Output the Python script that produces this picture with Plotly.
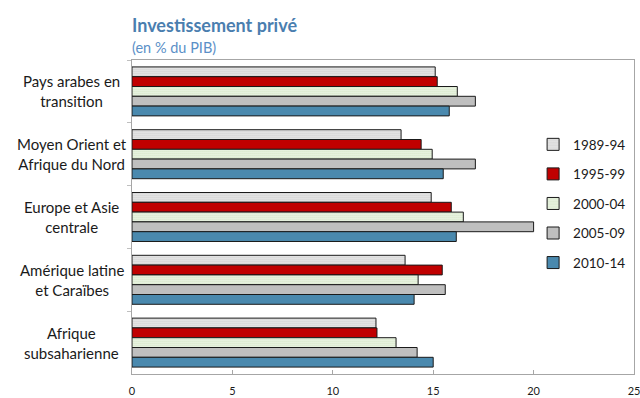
import plotly.graph_objects as go

# Regions (top to bottom) and periods
regions = [
    "Pays arabes en<br>transition",
    "Moyen Orient et<br>Afrique du Nord",
    "Europe et Asie<br>centrale",
    "Amérique latine<br>et Caraïbes",
    "Afrique<br>subsaharienne",
]
periods = ["1989-94", "1995-99", "2000-04", "2005-09", "2010-14"]

# Private investment, % of GDP, one list per period (same order as regions)
v_1989_94 = [15.1, 13.4, 14.9, 13.6, 12.15]
v_1995_99 = [15.2, 14.4, 15.9, 15.45, 12.2]
v_2000_04 = [16.2, 14.95, 16.5, 14.25, 13.15]
v_2005_09 = [17.1, 17.1, 20.0, 15.6, 14.2]
v_2010_14 = [15.8, 15.5, 16.15, 14.05, 15.0]
series = [v_1989_94, v_1995_99, v_2000_04, v_2005_09, v_2010_14]

x_ticks = [0, 5, 10, 15, 20, 25]

styles = [
    dict(color="white", pattern=dict(shape=".", fgcolor="#808080", bgcolor="white", size=2, solidity=0.6)),
    dict(color="#C00000"),
    dict(color="white", pattern=dict(shape=".", fgcolor="#8FBD6A", bgcolor="white", size=2, solidity=0.6)),
    dict(color="#BFBFBF"),
    dict(color="#4A89AE"),
]

FONT = "Lato"

fig = go.Figure()
for name, vals, st in zip(periods, series, styles):
    fig.add_trace(go.Bar(
        y=regions, x=vals, name=name, orientation="h",
        legendgroup=name,
        marker=dict(line=dict(color="#1a1a1a", width=1), **st),
    ))

# Category labels, centered multi-line text left of the plot area
for r in regions:
    fig.add_annotation(
        x=-0.12, xref="paper", y=r, yref="y", text=r, showarrow=False,
        xanchor="center", yanchor="middle", align="center",
        font=dict(family=FONT, size=15, color="#1a1a1a"),
    )

fig.add_annotation(
    x=0, xref="paper", y=1.0, yref="paper", yshift=35,
    text="<b>Investissement privé</b>", showarrow=False,
    xanchor="left", yanchor="middle", xshift=-2,
    font=dict(family=FONT, size=18, color="#4A7EAF"),
)
fig.add_annotation(
    x=0, xref="paper", y=1.0, yref="paper", yshift=13,
    text="(en % du PIB)", showarrow=False,
    xanchor="left", yanchor="middle", xshift=-2,
    font=dict(family=FONT, size=14.5, color="#5B8FC7"),
)

fig.update_layout(
    width=640, height=398,
    margin=dict(l=132, r=6, t=60, b=24, autoexpand=False),
    paper_bgcolor="white", plot_bgcolor="white",
    barmode="group", bargap=0.22, bargroupgap=0,
    showlegend=True,
    legend=dict(
        x=0.799, y=0.78, xanchor="left", yanchor="top",
        bgcolor="rgba(255,255,255,0)",
        font=dict(family=FONT, size=13.5, color="#1a1a1a"),
        traceorder="grouped", tracegroupgap=9,
        itemwidth=30,
    ),
    xaxis=dict(
        range=[0, 25], tickvals=x_ticks, ticks="inside", ticklen=4,
        tickcolor="#A6A6A6", showgrid=False, zeroline=False,
        showline=True, linecolor="#A6A6A6", linewidth=1, mirror=True,
        automargin=False, ticklabelstandoff=7, ticklabeloverflow="allow",
        tickfont=dict(family=FONT, size=11, color="#1a1a1a"),
    ),
    yaxis=dict(
        autorange="reversed", showticklabels=False, automargin=False,
        ticks="outside", tickson="boundaries", ticklen=4, tickcolor="#BFBFBF",
        showgrid=False, zeroline=False,
        showline=True, linecolor="#A6A6A6", linewidth=1, mirror=True,
    ),
)

fig.write_html("out.html")
